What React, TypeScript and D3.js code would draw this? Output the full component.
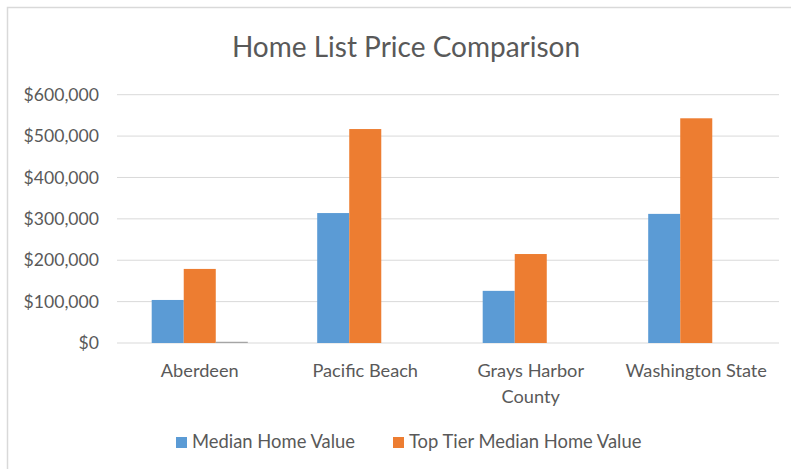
import * as d3 from "d3";

// chart data
const categories = ["Aberdeen", "Pacific Beach", "Grays Harbor County", "Washington State"];
const categoryLines = [["Aberdeen"], ["Pacific Beach"], ["Grays Harbor", "County"], ["Washington State"]];
const seriesNames = ["Median Home Value", "Top Tier Median Home Value", "Series3"];
const medianValues = [104000, 314000, 126000, 312000];
const topTierValues = [179000, 517000, 215000, 543000];
const series3Values = [3000, 0, 0, 0];
const yTicks = [0, 100000, 200000, 300000, 400000, 500000, 600000];
const legendNames = ["Median Home Value", "Top Tier Median Home Value"];

const colors = ["#5B9BD5", "#ED7D31", "#A5A5A5"];
const textColor = "#595959";
const gridColor = "#D9D9D9";
const font = "Lato, 'Open Sans', sans-serif";

const width = 791;
const height = 469;

export default function App() {
  const seriesValues = [medianValues, topTierValues, series3Values];

  const x = d3.scaleBand().domain(categories).range([117, 779]);
  // 3 slots per category, Excel-like gap width
  const inner = d3
    .scaleBand()
    .domain(seriesNames)
    .range([34.7, x.bandwidth() - 34.7]);
  const y = d3.scaleLinear().domain([0, 600000]).range([343, 94.7]);
  const fmt = (v) => "$" + d3.format(",")(v);

  return (
    <svg
      width={width}
      height={height}
      style={{ position: "absolute", left: 0, top: 0, background: "#fff" }}
      fontFamily={font}
    >
      <rect x={0} y={0} width={width} height={height} fill="#fff" />
      <rect x={7.5} y={7.5} width={width + 20} height={height + 20} fill="none" stroke={gridColor} strokeWidth={1.5} />

      <text x={406} y={57} textAnchor="middle" fontSize={28} fill={textColor}>
        Home List Price Comparison
      </text>

      {/* gridlines and y labels */}
      {yTicks.map((t) => (
        <g key={t}>
          <line x1={117} x2={779} y1={y(t)} y2={y(t)} stroke={gridColor} strokeWidth={1} />
          <text x={99} y={y(t)} dy="0.35em" textAnchor="end" fontSize={17.6} fill={textColor}>
            {fmt(t)}
          </text>
        </g>
      ))}

      {/* bars */}
      {seriesNames.map((s, si) => (
        <g key={s} fill={colors[si]}>
          {categories.map((c, ci) => {
            const v = seriesValues[si][ci];
            if (!v) return null;
            return (
              <rect
                key={c}
                x={x(c) + inner(s)}
                y={y(v)}
                width={inner.bandwidth()}
                height={y(0) - y(v)}
              />
            );
          })}
        </g>
      ))}

      {/* category labels */}
      {categories.map((c, ci) => (
        <text key={c} textAnchor="middle" fontSize={18.2} fill={textColor}>
          {categoryLines[ci].map((line, li) => (
            <tspan key={li} x={x(c) + x.bandwidth() / 2} y={377 + li * 26}>
              {line}
            </tspan>
          ))}
        </text>
      ))}

      {/* legend */}
      {legendNames.map((n, i) => {
        const lx = [176, 393][i];
        return (
          <g key={n}>
            <rect x={lx} y={437} width={11} height={11} fill={colors[i]} />
            <text x={lx + 16} y={448} fontSize={18.4} fill={textColor}>
              {n}
            </text>
          </g>
        );
      })}
    </svg>
  );
}
